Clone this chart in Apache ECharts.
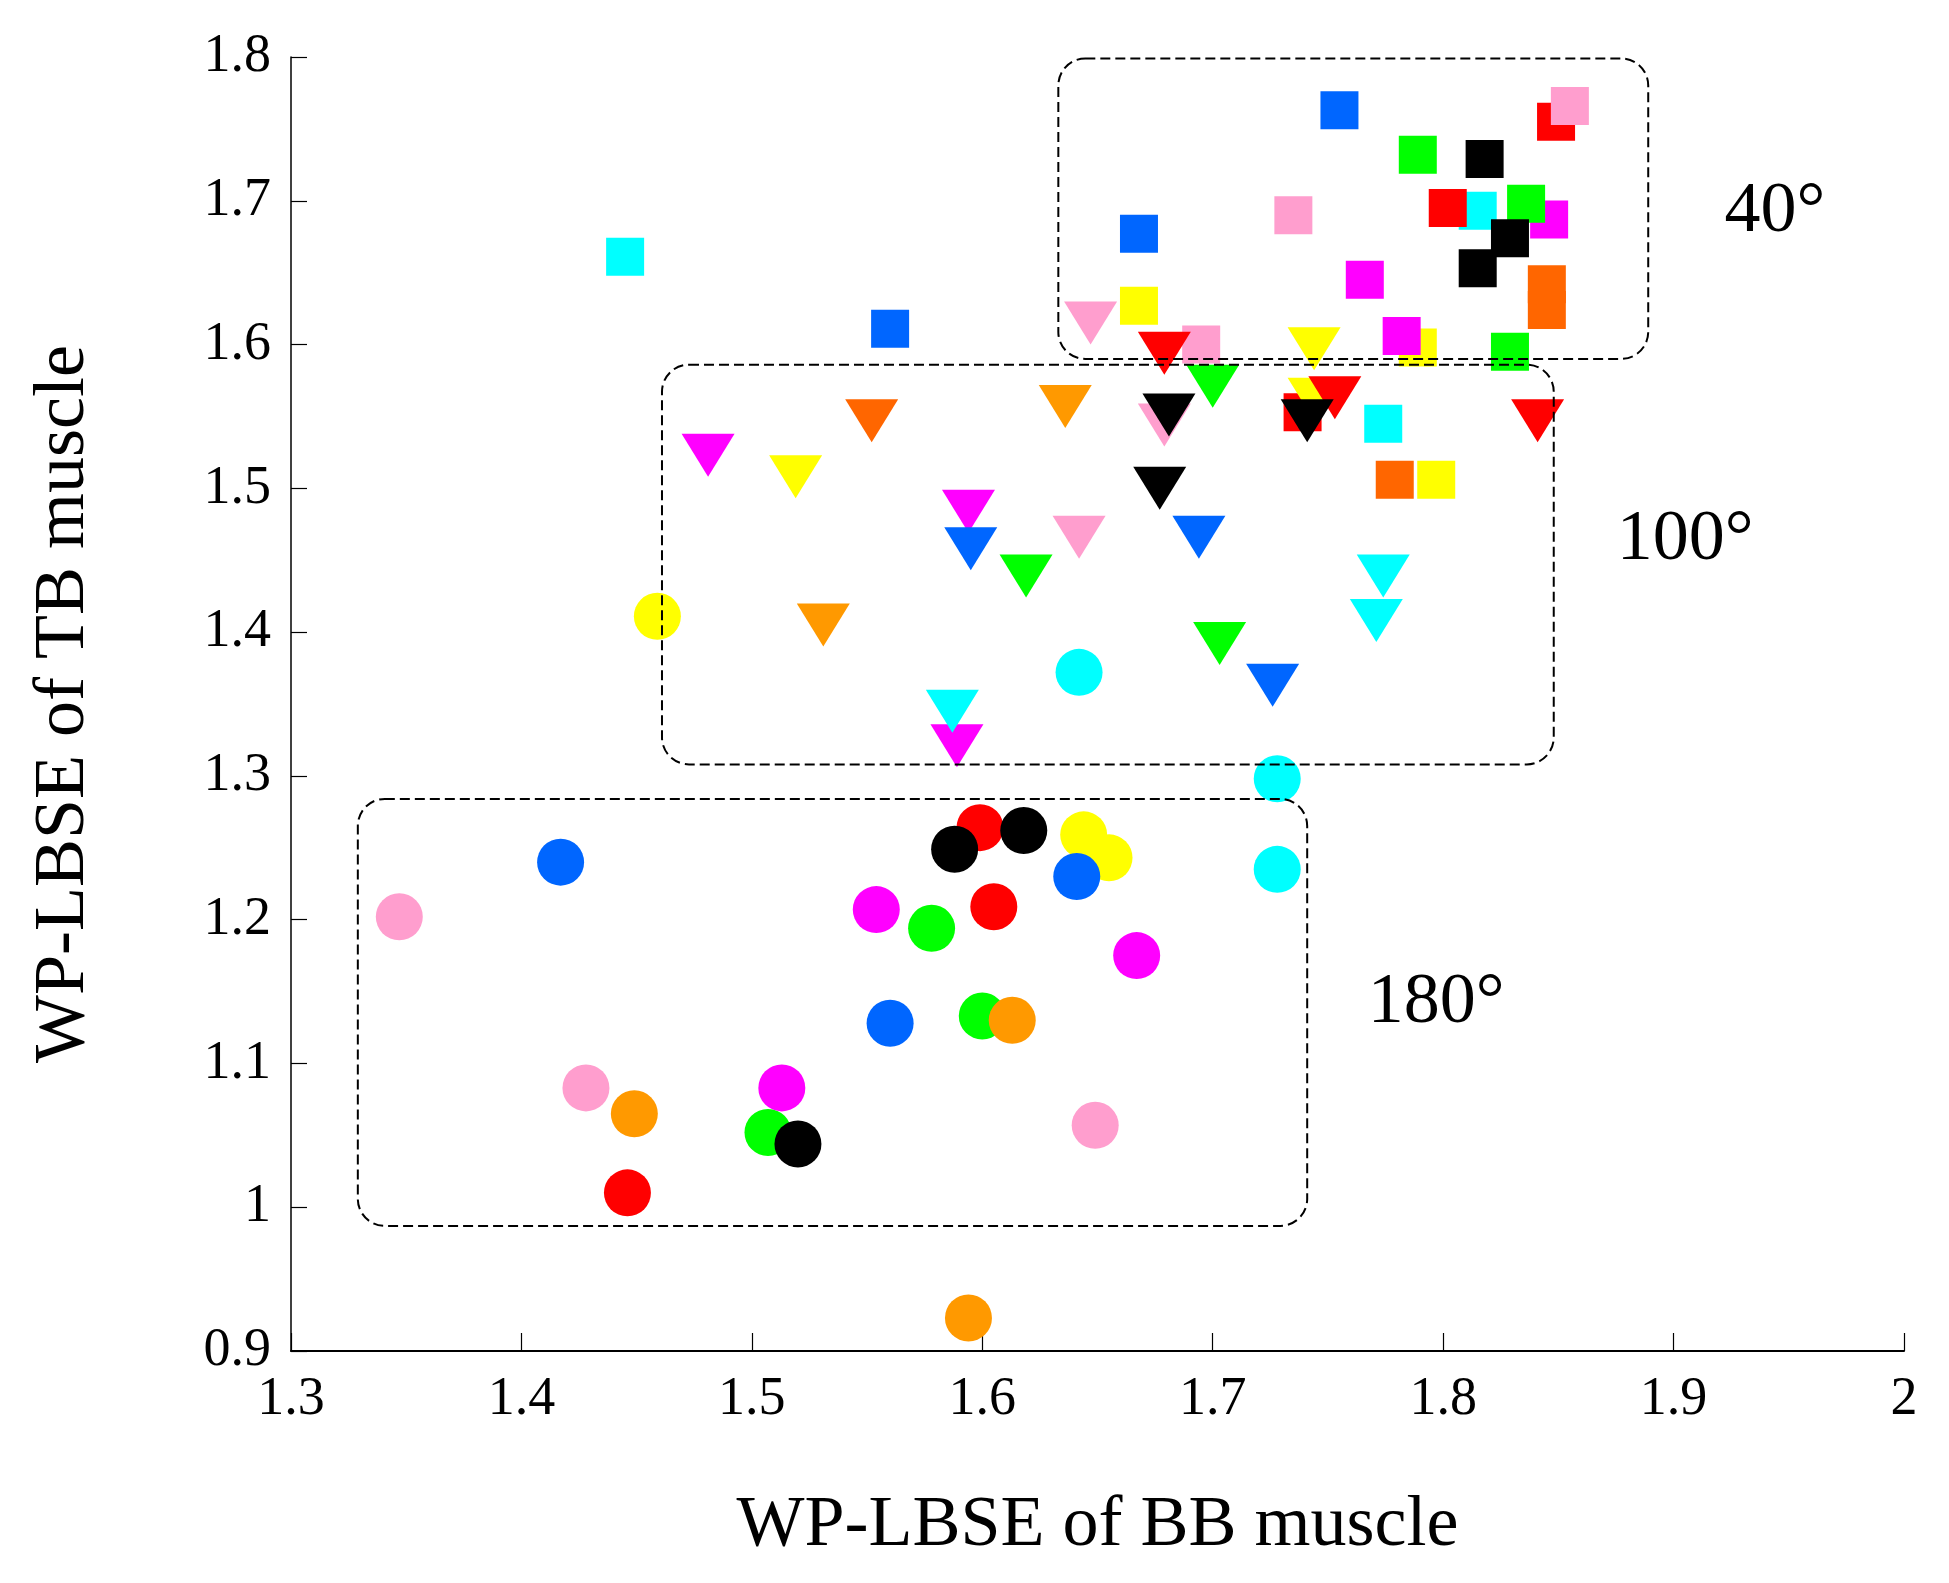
<!DOCTYPE html>
<html>
<head>
<meta charset="utf-8">
<script src="https://cdn.jsdelivr.net/npm/echarts@6/dist/echarts.min.js"></script>
<style>
html,body{margin:0;padding:0;background:#ffffff;}
#chart{width:1949px;height:1583px;}
</style>
</head>
<body>
<div id="chart"></div>
<script>
// ---- data ----
const xTitle = 'WP-LBSE of BB muscle';
const yTitle = 'WP-LBSE of TB muscle';
const xTicks = [1.3, 2.0, 0.1];   // min, max, step
const yTicks = [0.9, 1.8, 0.1];

// subjects -> colours
const subjects = ['S1','S2','S3','S4','S5','S6','S7','S8','S9','S10'];
const subjectColors = ['#FF0000','#FF9ECE','#0066FF','#00FF00','#000000','#00FFFF','#FF00FF','#FFFF00','#FF6600','#FF9900'];

// 40 degrees (squares)
const subj40 = ['S6','S6','S6','S8','S8','S8','S7','S7','S7','S4','S4','S4','S1','S1','S1','S2','S2','S2','S3','S3','S3','S9','S9','S9','S5','S5','S5'];
const bb40 = [1.445,1.774,1.815, 1.668,1.789,1.797, 1.846,1.766,1.782, 1.789,1.836,1.829, 1.849,1.802,1.739, 1.855,1.735,1.695, 1.755,1.668,1.560, 1.845,1.845,1.779, 1.818,1.829,1.815];
const tb40 = [1.661,1.545,1.693, 1.627,1.598,1.506, 1.687,1.645,1.606, 1.732,1.698,1.595, 1.755,1.695,1.553, 1.766,1.690,1.600, 1.763,1.677,1.611, 1.642,1.624,1.506, 1.729,1.674,1.653];

// 100 degrees (down triangles)
const subj100 = ['S7','S7','S7','S8','S8','S8','S2','S2','S2','S4','S4','S4','S6','S6','S6','S1','S1','S1','S3','S3','S3','S9','S10','S10','S5','S5','S5'];
const bb100 = [1.481,1.594,1.589, 1.744,1.744,1.519, 1.647,1.679,1.642, 1.700,1.619,1.703, 1.774,1.771,1.587, 1.679,1.753,1.841, 1.595,1.694,1.726, 1.552, 1.636,1.531, 1.681,1.741,1.677];
const tb100 = [1.523,1.484,1.321, 1.597,1.562,1.508, 1.615,1.544,1.466, 1.571,1.439,1.392, 1.439,1.408,1.345, 1.594,1.563,1.547, 1.458,1.466,1.363, 1.547, 1.557,1.405, 1.551,1.547,1.500];

// 180 degrees (circles)
const subj180 = ['S1','S1','S1','S2','S2','S2','S4','S4','S4','S8','S8','S8','S6','S6','S6','S7','S7','S7','S10','S10','S10','S3','S3','S3','S5','S5','S5'];
const bb180 = [1.446,1.599,1.605, 1.347,1.428,1.649, 1.507,1.578,1.600, 1.459,1.644,1.655, 1.642,1.728,1.728, 1.513,1.554,1.667, 1.449,1.613,1.594, 1.417,1.641,1.560, 1.588,1.618,1.520];
const tb180 = [1.010,1.264,1.209, 1.202,1.083,1.057, 1.052,1.194,1.133, 1.411,1.259,1.243, 1.372,1.298,1.235, 1.083,1.207,1.175, 1.065,1.130,0.923, 1.240,1.230,1.128, 1.249,1.262,1.044];

// group annotations: angle label, box extent [xmin,xmax,ymin,ymax], label anchor [x,y]
const angleLabels = ['40°','100°','180°'];
const boxExtents = [[1.633,1.889,1.590,1.799],[1.461,1.848,1.308,1.586],[1.329,1.741,0.987,1.284]];
const labelAnchors = [[1.944,1.692],[1.905,1.464],[1.797,1.142]];

// ---- chart ----
const FONT = '"Liberation Serif", "DejaVu Serif", serif';

function points(bb, tb, subj) {
  return bb.map((x, i) => ({
    value: [x, tb[i]],
    itemStyle: { color: subjectColors[subjects.indexOf(subj[i])], opacity: 1 }
  }));
}

const boxData = boxExtents.map((b, i) => [b[0], b[1], b[2], b[3], labelAnchors[i][0], labelAnchors[i][1], i]);

const chart = echarts.init(document.getElementById('chart'), null, { renderer: 'canvas' });

const markerBase = { type: 'scatter', itemStyle: { opacity: 1 }, emphasis: { disabled: true }, silent: true };

chart.setOption({
  backgroundColor: '#ffffff',
  animation: false,
  grid: { left: 291, right: 45, top: 57, bottom: 232, containLabel: false },
  xAxis: {
    type: 'value', min: xTicks[0], max: xTicks[1], interval: xTicks[2],
    name: xTitle, nameLocation: 'middle', nameGap: 139,
    nameTextStyle: { fontFamily: FONT, fontSize: 72, color: '#000' },
    axisLine: { show: true, lineStyle: { color: '#000', width: 2 } },
    axisTick: { show: true, inside: true, length: 18, lineStyle: { color: '#000', width: 1.2 } },
    axisLabel: { fontFamily: FONT, fontSize: 54, color: '#000', margin: 22 },
    splitLine: { show: false }
  },
  yAxis: {
    type: 'value', min: yTicks[0], max: yTicks[1], interval: yTicks[2],
    name: yTitle, nameLocation: 'middle', nameGap: 191,
    nameTextStyle: { fontFamily: FONT, fontSize: 72, color: '#000' },
    axisLine: { show: true, lineStyle: { color: '#000', width: 1.5 } },
    axisTick: { show: true, inside: true, length: 16, lineStyle: { color: '#000', width: 1.2 } },
    axisLabel: { fontFamily: FONT, fontSize: 54, color: '#000', margin: 20 },
    splitLine: { show: false }
  },
  series: [
    Object.assign({}, markerBase, {
      name: '180°', symbol: 'circle', symbolSize: 47,
      data: points(bb180, tb180, subj180), z: 2
    }),
    Object.assign({}, markerBase, {
      name: '40°', symbol: 'rect', symbolSize: 38,
      data: points(bb40, tb40, subj40), z: 3
    }),
    Object.assign({}, markerBase, {
      name: '100°', symbol: 'triangle', symbolSize: [53, 43], symbolRotate: 180,
      data: points(bb100, tb100, subj100), z: 4
    }),
    {
      name: 'groups', type: 'custom', z: 10, silent: true, clip: false,
      encode: { x: [0, 1, 4], y: [2, 3, 5] },
      data: boxData,
      renderItem: function (params, api) {
        const tl = api.coord([api.value(0), api.value(3)]);
        const br = api.coord([api.value(1), api.value(2)]);
        const lp = api.coord([api.value(4), api.value(5)]);
        return {
          type: 'group',
          children: [
            {
              type: 'rect',
              shape: { x: tl[0], y: tl[1], width: br[0] - tl[0], height: br[1] - tl[1], r: 27 },
              style: { fill: 'none', stroke: '#000', lineWidth: 2, lineDash: [10, 5] }
            },
            {
              type: 'text', x: lp[0], y: lp[1],
              style: {
                text: angleLabels[api.value(6)], fontFamily: FONT, fontSize: 72, fill: '#000',
                align: 'center', verticalAlign: 'middle'
              }
            }
          ]
        };
      }
    }
  ]
});
</script>
</body>
</html>
